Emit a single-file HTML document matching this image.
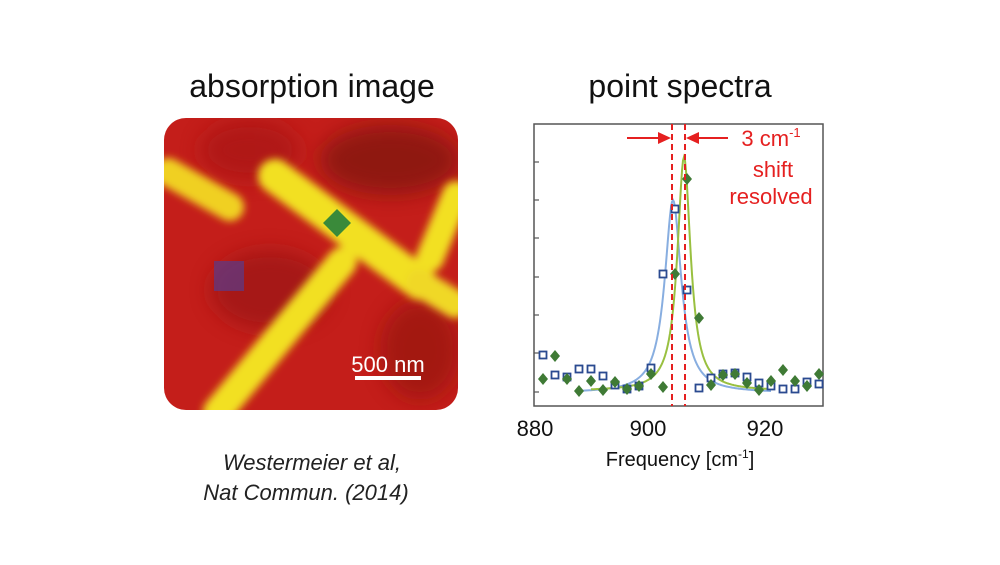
<!DOCTYPE html>
<html><head><meta charset="utf-8"><style>
html,body{margin:0;padding:0;background:#fff;}
body{width:1000px;height:560px;position:relative;overflow:hidden;font-family:"Liberation Sans",sans-serif;}
</style></head><body>
<svg width="1000" height="560" viewBox="0 0 1000 560" xmlns="http://www.w3.org/2000/svg">
<defs>
<clipPath id="rc"><rect x="164" y="118" width="294" height="292" rx="22" ry="22"/></clipPath>
<filter id="bl" x="-20%" y="-20%" width="140%" height="140%"><feGaussianBlur stdDeviation="4"/></filter>
<filter id="bl2" x="-50%" y="-50%" width="200%" height="200%"><feGaussianBlur stdDeviation="10"/></filter>
</defs>
<text x="312" y="97" font-size="32" text-anchor="middle" fill="#111">absorption image</text>
<text x="680" y="97" font-size="32" text-anchor="middle" fill="#111">point spectra</text>
<g clip-path="url(#rc)">
<rect x="164" y="118" width="294" height="292" fill="#c41e1a"/>
<g filter="url(#bl2)" opacity="0.7">
<ellipse cx="390" cy="160" rx="70" ry="35" fill="#7a120e"/>
<ellipse cx="270" cy="290" rx="60" ry="40" fill="#9a1612"/>
<ellipse cx="420" cy="350" rx="40" ry="50" fill="#961610"/>
<ellipse cx="250" cy="150" rx="50" ry="30" fill="#a81814"/>
</g>
<g filter="url(#bl)" stroke-linecap="round">
<line x1="168" y1="172" x2="230" y2="207" stroke="#f0d020" stroke-width="28"/>
<line x1="275" y1="176" x2="420" y2="283" stroke="#f2e020" stroke-width="34"/>
<line x1="420" y1="283" x2="455" y2="304" stroke="#f0d828" stroke-width="28"/>
<line x1="342" y1="262" x2="218" y2="412" stroke="#f2e020" stroke-width="30"/>
<line x1="456" y1="195" x2="430" y2="258" stroke="#f2e020" stroke-width="28"/>
</g>
<polygon points="337,209 351,223 337,237 323,223" fill="#3a8a3a"/>
<rect x="214" y="261" width="30" height="30" fill="#5a3a8a" opacity="0.7"/>
<text x="388" y="372" font-size="22" fill="#fff" text-anchor="middle">500 nm</text>
<rect x="355" y="376" width="66" height="4" fill="#fff"/>
</g>
<text x="312" y="470" font-size="22" font-style="italic" text-anchor="middle" fill="#222">Westermeier et al,</text>
<text x="306" y="500" font-size="22" font-style="italic" text-anchor="middle" fill="#222">Nat Commun. (2014)</text>
<rect x="534" y="124" width="289" height="282" fill="none" stroke="#555" stroke-width="1.5"/>
<g stroke="#555" stroke-width="1.2">
<line x1="534" y1="162" x2="539" y2="162"/><line x1="534" y1="200" x2="539" y2="200"/>
<line x1="534" y1="238" x2="539" y2="238"/><line x1="534" y1="277" x2="539" y2="277"/>
<line x1="534" y1="315" x2="539" y2="315"/><line x1="534" y1="353" x2="539" y2="353"/>
<line x1="534" y1="392" x2="539" y2="392"/>
</g>
<g font-size="22" fill="#111" text-anchor="middle">
<text x="535" y="436">880</text><text x="648" y="436">900</text><text x="765" y="436">920</text>
<text x="680" y="466" font-size="20">Frequency [cm<tspan font-size="12" dy="-8">-1</tspan><tspan dy="8">]</tspan></text>
</g>
<path id="cb" fill="none" stroke="#88aee0" stroke-width="2"/>
<path id="cg" fill="none" stroke="#99c040" stroke-width="2"/>
<g id="pts"></g>
<line x1="672" y1="124" x2="672" y2="406" stroke="#e52020" stroke-width="2" stroke-dasharray="6,4"/>
<line x1="685" y1="124" x2="685" y2="406" stroke="#e52020" stroke-width="2" stroke-dasharray="6,4"/>
<line x1="627" y1="138" x2="660" y2="138" stroke="#e52020" stroke-width="2"/>
<polygon points="671,138 658,132 658,144" fill="#e52020"/>
<line x1="697" y1="138" x2="728" y2="138" stroke="#e52020" stroke-width="2"/>
<polygon points="686,138 699,132 699,144" fill="#e52020"/>
<g fill="#e52020" font-size="22" text-anchor="middle">
<text x="771" y="146">3 cm<tspan font-size="13" dy="-9">-1</tspan></text>
<text x="773" y="177">shift</text>
<text x="771" y="204">resolved</text>
</g>
</svg>
<script>
function lor(x0,hw,base,peak,xa,xb){var d='';for(var x=xa;x<=xb;x+=1){var y=base-(base-peak)*hw*hw/((x-x0)*(x-x0)+hw*hw);d+=(x==xa?'M':'L')+x+','+y.toFixed(1);}return d;}
document.getElementById('cb').setAttribute('d',lor(673,10,393,200,579,771));
document.getElementById('cg').setAttribute('d',lor(684,8,391,157,591,771));
var B=[[543,355],[555,375],[567,377],[579,369],[591,369],[603,376],[615,385],[627,389],[639,386],[651,368],[663,274],[675,209],[687,290],[699,388],[711,378],[723,374],[735,373],[747,377],[759,383],[771,386],[783,389],[795,389],[807,382],[819,384]];
var G=[[543,379],[555,356],[567,379],[579,391],[591,381],[603,390],[615,382],[627,389],[639,386],[651,374],[663,387],[675,274],[687,179],[699,318],[711,385],[723,375],[735,374],[747,383],[759,390],[771,381],[783,370],[795,381],[807,386],[819,374]];
var p='';
B.forEach(function(a){p+='<rect x="'+(a[0]-3.5)+'" y="'+(a[1]-3.5)+'" width="7" height="7" fill="#fff" stroke="#2a4a90" stroke-width="1.8"/>';});
G.forEach(function(a){p+='<polygon points="'+a[0]+','+(a[1]-6)+' '+(a[0]+5)+','+a[1]+' '+a[0]+','+(a[1]+6)+' '+(a[0]-5)+','+a[1]+'" fill="#3f7a35"/>';});
document.getElementById('pts').innerHTML=p;
</script>
</body></html>
